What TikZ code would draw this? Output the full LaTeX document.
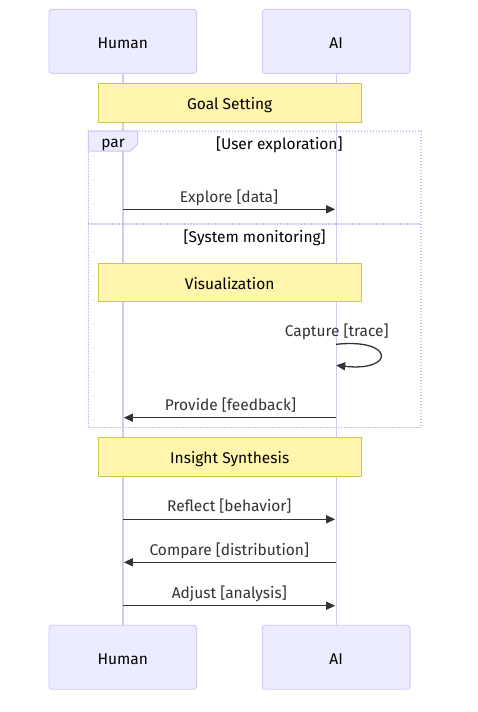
\documentclass[tikz,border=0pt]{standalone}
\usepackage{fontspec}
\setmainfont{Fira Sans}
\usetikzlibrary{arrows.meta}
\definecolor{actfill}{HTML}{ECECFF}
\definecolor{actline}{HTML}{D5C8F2}
\definecolor{notefill}{HTML}{FFF5AD}
\definecolor{noteline}{HTML}{C8C850}
\definecolor{msg}{HTML}{333333}
\definecolor{parline}{HTML}{CFC3F0}
\tikzset{
  actor/.style={draw=actline, fill=actfill, rounded corners=3pt, line width=0.9pt, minimum width=147.7pt, minimum height=64pt, inner sep=0pt, text height=14pt, text depth=0pt, font=\fontsize{15.5}{17}\selectfont, text=black},
  note/.style={draw=noteline, fill=notefill, line width=0.9pt, minimum width=262.7pt, minimum height=38.5pt, inner sep=0pt, text height=14pt, text depth=0pt, font=\fontsize{15.5}{17}\selectfont, text=black},
  lifeline/.style={draw=actline, line width=1.4pt},
  msgline/.style={draw=msg, line width=1.3pt, -{Triangle[length=9pt,width=8pt]}},
  msglabel/.style={font=\fontsize{15.5}{17}\selectfont, text=msg, inner sep=0pt, yshift=-1.5pt},
  parbox/.style={draw=parline, line width=1.5pt, dash pattern=on 1.5pt off 1.5pt},
  partext/.style={font=\fontsize{15.5}{17}\selectfont, text=black, inner sep=0pt, yshift=-1pt},
}
\begin{document}
\begin{tikzpicture}[x=1pt,y=-1pt]
\useasboundingbox (0,0) rectangle (478,712);
% actors
\node[actor] (ht) at (122.8,41.3) {Human};
\node[actor] (at) at (336.2,41.3) {AI};
\node[actor] (hb) at (122.8,657.2) {Human};
\node[actor] (ab) at (336.2,657.2) {AI};
\draw[lifeline] (ht.south) -- (hb.north);
\draw[lifeline] (at.south) -- (ab.north);
% par frame
\draw[parbox] (88.3,131) rectangle (421,427.3);
\draw[parbox] (88.3,224) -- (421,224);
\path[fill=actfill, draw=parline, line width=1pt] (88.3,131) -- (137.7,131) -- (137.7,144) -- (130.5,151) -- (88.3,151) -- cycle;
\node[partext] (parlbl) at (113,143.5) {par};
\node[partext] (g1) at (279.3,143.5) {[User exploration]};
\node[partext] (g2) at (254.7,237) {[System monitoring]};
% notes
\node[note] (n1) at (229.7,102.7) {Goal Setting};
\node[note] (n2) at (229.7,282.5) {Visualization};
\node[note] (n3) at (229.7,456.9) {Insight Synthesis};
% message coordinates
\coordinate (h1) at (122.8,209.3); \coordinate (a1) at (335.2,209.3);
\coordinate (s1) at (336.2,344.3); \coordinate (s2) at (336.2,365.3);
\coordinate (h2) at (123.8,417.7); \coordinate (a2) at (336.2,417.7);
\coordinate (h3) at (122.8,519.3); \coordinate (a3) at (335.2,519.3);
\coordinate (h4) at (123.8,562.3); \coordinate (a4) at (336.2,562.3);
\coordinate (h5) at (122.8,605.7); \coordinate (a5) at (335.2,605.7);
\draw[msgline] (h1) -- (a1);
\node[msglabel] (m1) at (229,196) {Explore [data]};
\draw[msgline] (s1) .. controls (395,338) and (395,372) .. (s2);
\node[msglabel] (m2) at (336.7,330) {Capture [trace]};
\draw[msgline] (a2) -- (h2);
\node[msglabel] (m3) at (230.5,403.5) {Provide [feedback]};
\draw[msgline] (h3) -- (a3);
\node[msglabel] (m4) at (229.3,505) {Reflect [behavior]};
\draw[msgline] (a4) -- (h4);
\node[msglabel] (m5) at (229.3,549) {Compare [distribution]};
\draw[msgline] (h5) -- (a5);
\node[msglabel] (m6) at (229.3,592) {Adjust [analysis]};
\end{tikzpicture}
\end{document}
